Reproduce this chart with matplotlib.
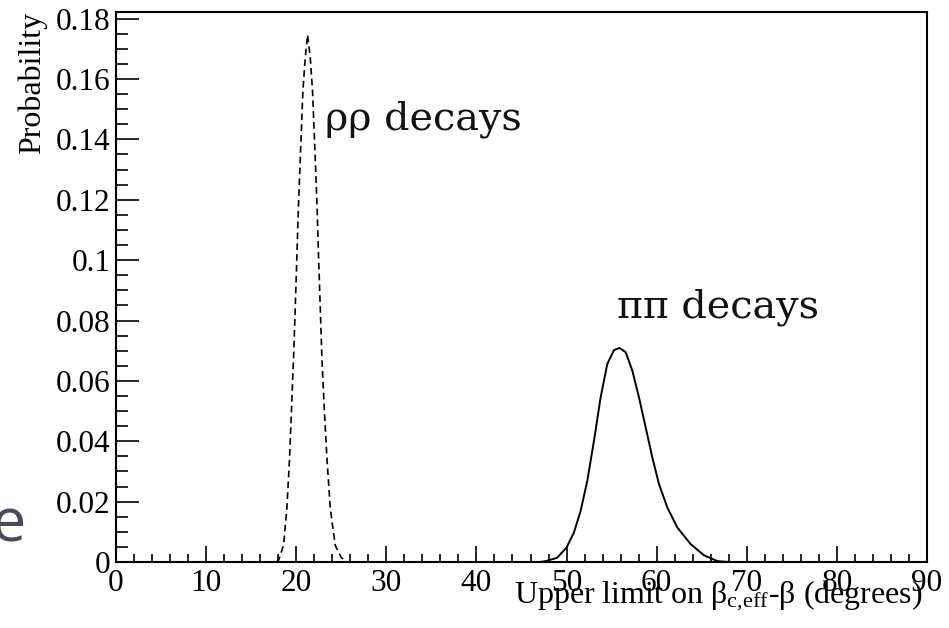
import matplotlib
matplotlib.use("Agg")
import matplotlib.pyplot as plt
from matplotlib.ticker import MultipleLocator, FixedLocator

plt.rcParams['mathtext.fontset'] = 'custom'
plt.rcParams['mathtext.rm'] = 'Liberation Serif'
plt.rcParams['mathtext.it'] = 'Liberation Serif:italic'

# rho-rho decays (dashed)
rho_x = [17.8, 18.04, 18.59, 18.96, 19.26, 19.48, 19.70, 19.89, 20.07, 20.26, 20.52, 20.74, 21.0, 21.26,
         21.56, 21.81, 22.04, 22.30, 22.48, 22.67, 22.85, 23.11, 23.41, 23.78, 24.33, 25.0, 25.6]
rho_y = [0.0, 0.0006, 0.0055, 0.0177, 0.0343, 0.0509, 0.0675, 0.084, 0.101, 0.119, 0.139, 0.156, 0.167, 0.1747,
         0.167, 0.156, 0.139, 0.119, 0.101, 0.084, 0.0675, 0.0509, 0.0343, 0.0177, 0.0055, 0.0015, 0.0]

# pi-pi decays (solid)
pi_x = [47.0, 47.7, 48.96, 50.0, 50.81, 51.56, 52.30, 53.04, 53.78, 54.52, 55.26, 55.89,
        56.56, 57.30, 58.04, 58.78, 59.52, 60.26, 61.19, 62.30, 63.78, 65.26, 66.74, 68.0]
pi_y = [0.0, 0.0003, 0.0014, 0.0048, 0.0097, 0.0169, 0.0269, 0.0401, 0.0545, 0.0656, 0.0702, 0.0709,
        0.0695, 0.0634, 0.0545, 0.0446, 0.0346, 0.0258, 0.0180, 0.0114, 0.0059, 0.0022, 0.0003, 0.0]

xticks = [0, 10, 20, 30, 40, 50, 60, 70, 80, 90]
xticklabels = ["0", "10", "20", "30", "40", "50", "60", "70", "80", "90"]
yticks = [0, 0.02, 0.04, 0.06, 0.08, 0.1, 0.12, 0.14, 0.16, 0.18]
yticklabels = ["0", "0.02", "0.04", "0.06", "0.08", "0.1", "0.12", "0.14", "0.16", "0.18"]

W, H = 949, 628
fig = plt.figure(figsize=(W / 100, H / 100), dpi=100)
ax = fig.add_axes([116 / W, 1 - 562 / H, (927 - 116) / W, (562 - 12) / H])

ax.plot(rho_x, rho_y, color='black', lw=1.2, linestyle=(0, (4, 2.5)))
ax.plot(pi_x, pi_y, color='black', lw=1.4)

ax.set_xlim(0, 90)
ax.set_ylim(0, 0.1822)
ax.xaxis.set_major_locator(FixedLocator(xticks))
ax.set_xticklabels(xticklabels)
ax.xaxis.set_minor_locator(MultipleLocator(2))
ax.yaxis.set_major_locator(FixedLocator(yticks))
ax.set_yticklabels(yticklabels)
ax.yaxis.set_minor_locator(MultipleLocator(0.005))

serif = 'Liberation Serif'
ax.tick_params(axis='both', which='both', direction='in', top=False, right=False, width=1.2)
ax.tick_params(axis='x', which='major', length=11.3, pad=5)
ax.tick_params(axis='x', which='minor', length=6)
ax.tick_params(axis='y', which='major', length=16.6, pad=4)
ax.tick_params(axis='y', which='minor', length=8.4)
for lab in ax.get_xticklabels() + ax.get_yticklabels():
    lab.set_fontfamily(serif)
    lab.set_fontsize(22.5)
for s in ax.spines.values():
    s.set_linewidth(1.5)

fig.text(923 / W, 1 - 603 / H, r"Upper limit on β$_{\mathregular{c{,}eff}}$-β (degrees)",
         ha='right', va='baseline', fontsize=23, family=serif)
fig.text(32 / W, 1 - 12 / H, "Probability", rotation=90, ha='center', va='top',
         fontsize=23, family=serif)

fig.text(325 / W, 1 - 129 / H, "ρρ decays", ha='left', va='baseline', fontsize=28.5,
         family='DejaVu Serif', color='#111111')
fig.text(617 / W, 1 - 317 / H, "ππ decays", ha='left', va='baseline', fontsize=28.5,
         family='DejaVu Serif', color='#111111')
fig.text(26 / W, 1 - 542 / H, "e", ha='right', va='baseline', fontsize=44,
         family='Open Sans', color='#4a4a5e')

fig.savefig("out.png", dpi=100)
